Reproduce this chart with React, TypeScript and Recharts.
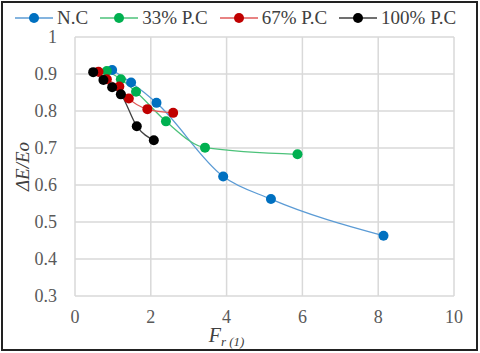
import { LineChart, Line, XAxis, YAxis, CartesianGrid, Legend, Label } from 'recharts'

const ncX = [0.98, 1.48, 2.15, 3.91, 5.17, 8.14]
const ncY = [0.911, 0.877, 0.822, 0.623, 0.562, 0.463]
const pc33X = [0.84, 1.21, 1.61, 2.4, 3.43, 5.87]
const pc33Y = [0.908, 0.886, 0.852, 0.772, 0.701, 0.683]
const pc67X = [0.62, 0.84, 1.17, 1.42, 1.91, 2.59]
const pc67Y = [0.906, 0.886, 0.866, 0.834, 0.805, 0.795]
const pc100X = [0.48, 0.75, 0.98, 1.21, 1.63, 2.08]
const pc100Y = [0.905, 0.884, 0.864, 0.845, 0.759, 0.721]

const xTicks = [0, 2, 4, 6, 8, 10]
const yTicks = [0.3, 0.4, 0.5, 0.6, 0.7, 0.8, 0.9, 1]

const toPoints = (xs: number[], ys: number[]) => xs.map((x, i) => ({ x, y: ys[i] }))

const series = [
  { name: 'N.C', data: toPoints(ncX, ncY), line: '#5b9bd5', dot: '#0070c0' },
  { name: '33% P.C', data: toPoints(pc33X, pc33Y), line: '#4cc27a', dot: '#00b050' },
  { name: '67% P.C', data: toPoints(pc67X, pc67Y), line: '#e05a5a', dot: '#c00000' },
  { name: '100% P.C', data: toPoints(pc100X, pc100Y), line: '#404040', dot: '#000000' },
]

const font = '"Liberation Serif", "Times New Roman", serif'

function LegendBox() {
  return (
    <div style={{ height: 33, paddingTop: 4, paddingLeft: 15, boxSizing: 'border-box', display: 'flex', gap: 12, fontFamily: font, fontSize: 19, color: '#404040', whiteSpace: 'nowrap' }}>
      {series.map(s => (
        <div key={s.name} style={{ display: 'flex', alignItems: 'center', height: 20 }}>
          <svg width={38} height={20}>
            <line x1={0} y1={10} x2={38} y2={10} stroke={s.line} strokeWidth={1.5} />
            <circle cx={19} cy={10} r={5} fill={s.dot} />
          </svg>
          <span style={{ marginLeft: 4, lineHeight: '20px' }}>{s.name}</span>
        </div>
      ))}
    </div>
  )
}

function XTick({ x, y, payload }: any) {
  return (
    <text x={x} y={y} dy={12} textAnchor="middle" style={{ fontFamily: font, fontSize: 18, fill: '#595959' }}>
      {payload.value}
    </text>
  )
}

function YTick({ x, y, payload }: any) {
  return (
    <text x={x} y={y} dy={6} textAnchor="end" style={{ fontFamily: font, fontSize: 18, fill: '#595959' }}>
      {payload.value}
    </text>
  )
}

export default function App() {
  return (
    <div style={{ position: 'absolute', left: 0, top: 0, width: 480, height: 353, background: '#fff' }}>
      <div style={{ position: 'absolute', left: 1, top: 1, width: 477, height: 350, border: '2px solid #222', boxSizing: 'border-box' }} />
      <LineChart width={480} height={353} margin={{ top: 4, right: 26, bottom: 7, left: 5 }}>
        <CartesianGrid stroke="#d9d9d9" strokeWidth={1.5} />
        <XAxis
          dataKey="x"
          type="number"
          domain={[0, 10]}
          ticks={xTicks}
          axisLine={false}
          tickLine={false}
          tickSize={0}
          tickMargin={15}
          height={50}
          tick={<XTick />}
        >
          <Label
            content={({ viewBox }: any) => (
              <text x={viewBox.x + viewBox.width * 0.4} y={342} textAnchor="middle" style={{ fontFamily: font, fontStyle: 'italic', fill: '#404040' }}>
                <tspan style={{ fontSize: 20 }}>F</tspan>
                <tspan style={{ fontSize: 13 }} dy={4}>r (1)</tspan>
              </text>
            )}
          />
        </XAxis>
        <YAxis
          type="number"
          domain={[0.3, 1]}
          ticks={yTicks}
          axisLine={false}
          tickLine={false}
          tickSize={0}
          tickMargin={18}
          width={70}
          tick={<YTick />}
        >
          <Label
            content={({ viewBox }: any) => {
              const cy = viewBox.y + viewBox.height / 2
              return (
                <text x={29} y={cy} transform={`rotate(-90, 29, ${cy})`} textAnchor="middle" style={{ fontFamily: font, fontSize: 19, fontStyle: 'italic', fill: '#404040' }}>
                  ΔE/Eo
                </text>
              )
            }}
          />
        </YAxis>
        <Legend verticalAlign="top" align="left" wrapperStyle={{ left: 0, width: 480 }} content={<LegendBox />} />
        {series.map(s => (
          <Line
            key={s.name}
            data={s.data}
            dataKey="y"
            name={s.name}
            type="monotone"
            stroke={s.line}
            strokeWidth={1.3}
            dot={{ r: 5, fill: s.dot, stroke: s.dot, strokeWidth: 0 }}
            isAnimationActive={false}
          />
        ))}
      </LineChart>
    </div>
  )
}
